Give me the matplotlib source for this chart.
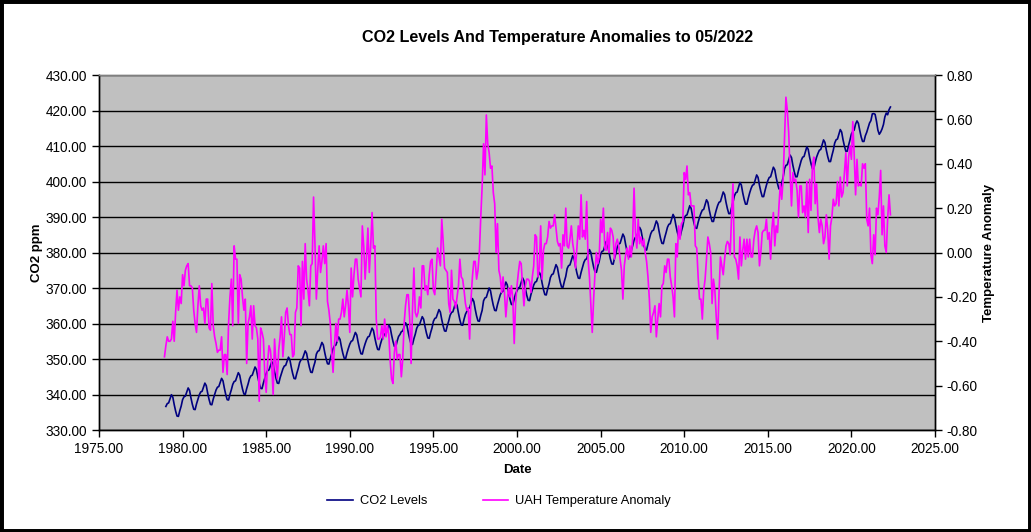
import numpy as np
import matplotlib
matplotlib.use("Agg")
import matplotlib.pyplot as plt
from matplotlib.patches import Rectangle

plt.rcParams['font.family'] = ['Liberation Sans', 'DejaVu Sans']

title = "CO2 Levels And Temperature Anomalies to 05/2022"
co2_label = "CO2 Levels"
uah_label = "UAH Temperature Anomaly"

# first month of each series (year, month)
co2_start = (1979, 1)
uah_start = (1978, 12)

# Mauna Loa monthly CO2 (ppm), one row per year
co2_ppm = [
    336.64, 337.44, 337.64, 338.84, 339.94, 339.24, 337.14, 335.34, 333.94, 333.84, 335.44, 336.74,  # 1979
    338.55, 339.35, 339.55, 340.75, 341.85, 341.15, 339.05, 337.25, 335.85, 335.75, 337.35, 338.65,  # 1980
    339.91, 340.71, 340.91, 342.11, 343.21, 342.51, 340.41, 338.61, 337.21, 337.11, 338.71, 340.01,  # 1981
    341.25, 342.05, 342.25, 343.45, 344.55, 343.85, 341.75, 339.95, 338.55, 338.45, 340.05, 341.35,  # 1982
    342.85, 343.65, 343.85, 345.05, 346.15, 345.45, 343.35, 341.55, 340.15, 340.05, 341.65, 342.95,  # 1983
    344.45, 345.25, 345.45, 346.65, 347.75, 347.05, 344.95, 343.15, 341.75, 341.65, 343.25, 344.55,  # 1984
    345.92, 346.72, 346.92, 348.12, 349.22, 348.52, 346.42, 344.62, 343.22, 343.12, 344.72, 346.02,  # 1985
    347.22, 348.02, 348.22, 349.42, 350.52, 349.82, 347.72, 345.92, 344.52, 344.42, 346.02, 347.32,  # 1986
    348.99, 349.79, 349.99, 351.19, 352.29, 351.59, 349.49, 347.69, 346.29, 346.19, 347.79, 349.09,  # 1987
    351.37, 352.17, 352.37, 353.57, 354.67, 353.97, 351.87, 350.07, 348.67, 348.57, 350.17, 351.47,  # 1988
    352.92, 353.72, 353.92, 355.12, 356.22, 355.52, 353.42, 351.62, 350.22, 350.12, 351.72, 353.02,  # 1989
    354.19, 354.99, 355.19, 356.39, 357.49, 356.79, 354.69, 352.89, 351.49, 351.39, 352.99, 354.29,  # 1990
    355.41, 356.21, 356.41, 357.61, 358.71, 358.01, 355.91, 354.11, 352.71, 352.61, 354.21, 355.51,  # 1991
    356.25, 357.05, 357.25, 358.45, 359.55, 358.85, 356.75, 354.95, 353.55, 353.45, 355.05, 356.35,  # 1992
    356.90, 357.70, 357.90, 359.10, 360.20, 359.50, 357.40, 355.60, 354.20, 354.10, 355.70, 357.00,  # 1993
    358.63, 359.43, 359.63, 360.83, 361.93, 361.23, 359.13, 357.33, 355.93, 355.83, 357.43, 358.73,  # 1994
    360.62, 361.42, 361.62, 362.82, 363.92, 363.22, 361.12, 359.32, 357.92, 357.82, 359.42, 360.72,  # 1995
    362.31, 363.11, 363.31, 364.61, 365.91, 365.11, 362.91, 361.01, 359.61, 359.51, 361.21, 362.61,  # 1996
    363.43, 364.23, 364.43, 365.73, 367.03, 366.23, 364.03, 362.13, 360.73, 360.63, 362.33, 363.73,  # 1997
    366.40, 367.20, 367.40, 368.70, 370.00, 369.20, 367.00, 365.10, 363.70, 363.60, 365.30, 366.70,  # 1998
    368.08, 368.88, 369.08, 370.38, 371.68, 370.88, 368.68, 366.78, 365.38, 365.28, 366.98, 368.38,  # 1999
    369.25, 370.05, 370.25, 371.55, 372.85, 372.05, 369.85, 367.95, 366.55, 366.45, 368.15, 369.55,  # 2000
    370.84, 371.64, 371.84, 373.14, 374.44, 373.64, 371.44, 369.54, 368.14, 368.04, 369.74, 371.14,  # 2001
    372.98, 373.78, 373.98, 375.28, 376.58, 375.78, 373.58, 371.68, 370.28, 370.18, 371.88, 373.28,  # 2002
    375.50, 376.30, 376.50, 377.80, 379.10, 378.30, 376.10, 374.20, 372.80, 372.70, 374.40, 375.80,  # 2003
    377.22, 378.02, 378.22, 379.52, 380.82, 380.02, 377.82, 375.92, 374.52, 374.42, 376.12, 377.52,  # 2004
    379.50, 380.30, 380.50, 381.80, 383.10, 382.30, 380.10, 378.20, 376.80, 376.70, 378.40, 379.80,  # 2005
    381.60, 382.40, 382.60, 383.90, 385.20, 384.40, 382.20, 380.30, 378.90, 378.80, 380.50, 381.90,  # 2006
    383.49, 384.29, 384.49, 385.79, 387.09, 386.29, 384.09, 382.19, 380.79, 380.69, 382.39, 383.79,  # 2007
    385.30, 386.10, 386.30, 387.60, 388.90, 388.10, 385.90, 384.00, 382.60, 382.50, 384.20, 385.60,  # 2008
    387.13, 387.93, 388.13, 389.43, 390.73, 389.93, 387.73, 385.83, 384.43, 384.33, 386.03, 387.43,  # 2009
    389.60, 390.40, 390.60, 391.90, 393.20, 392.40, 390.20, 388.30, 386.90, 386.80, 388.50, 389.90,  # 2010
    391.05, 391.95, 392.15, 393.55, 394.85, 394.15, 391.95, 390.15, 388.75, 388.75, 390.45, 391.95,  # 2011
    393.25, 394.15, 394.35, 395.75, 397.05, 396.35, 394.15, 392.35, 390.95, 390.95, 392.65, 394.15,  # 2012
    395.92, 396.82, 397.02, 398.42, 399.72, 399.02, 396.82, 395.02, 393.62, 393.62, 395.32, 396.82,  # 2013
    398.05, 398.95, 399.15, 400.55, 401.85, 401.15, 398.95, 397.15, 395.75, 395.75, 397.45, 398.95,  # 2014
    400.23, 401.13, 401.33, 402.73, 404.03, 403.33, 401.13, 399.33, 397.93, 397.93, 399.63, 401.13,  # 2015
    403.64, 404.54, 404.74, 406.14, 407.44, 406.74, 404.54, 402.74, 401.34, 401.34, 403.04, 404.54,  # 2016
    405.95, 406.85, 407.05, 408.45, 409.75, 409.05, 406.85, 405.05, 403.65, 403.65, 405.35, 406.85,  # 2017
    407.92, 408.82, 409.02, 410.42, 411.72, 411.02, 408.82, 407.02, 405.62, 405.62, 407.32, 408.82,  # 2018
    410.83, 411.75, 411.97, 413.33, 414.64, 413.93, 411.74, 409.95, 408.54, 408.52, 410.25, 411.76,  # 2019
    413.40, 414.11, 414.51, 416.21, 417.07, 416.39, 414.38, 412.55, 411.29, 411.28, 412.89, 413.88,  # 2020
    415.15, 416.47, 417.16, 419.05, 419.13, 418.94, 416.96, 414.47, 413.30, 413.93, 414.82, 416.06,  # 2021
    418.19, 419.28, 418.81, 420.23, 420.99,                                                          # 2022
]

# UAH lower-troposphere monthly anomaly (deg C), Dec 1978 first
uah_anomaly = [
    -0.47,                                                                                # 1978 Dec
    -0.42, -0.38, -0.40, -0.40, -0.39, -0.31, -0.40, -0.27, -0.17, -0.26, -0.20, -0.23,  # 1979
    -0.10, -0.15, -0.08, -0.06, -0.05, -0.15, -0.15, -0.16, -0.26, -0.32, -0.36, -0.24,  # 1980
    -0.15, -0.24, -0.26, -0.25, -0.32, -0.21, -0.21, -0.34, -0.35, -0.14, -0.33, -0.38,  # 1981
    -0.41, -0.45, -0.44, -0.44, -0.38, -0.54, -0.46, -0.46, -0.55, -0.32, -0.20, -0.12,  # 1982
    -0.33, 0.03, -0.03, -0.03, -0.32, -0.10, -0.12, -0.20, -0.26, -0.21, -0.50, -0.32,   # 1983
    -0.29, -0.24, -0.39, -0.24, -0.33, -0.34, -0.39, -0.67, -0.34, -0.36, -0.39, -0.55,  # 1984
    -0.63, -0.50, -0.42, -0.44, -0.51, -0.64, -0.39, -0.50, -0.57, -0.44, -0.38, -0.29,  # 1985
    -0.47, -0.38, -0.27, -0.25, -0.33, -0.37, -0.37, -0.47, -0.46, -0.27, -0.25, -0.06,  # 1986
    -0.07, -0.33, -0.04, -0.21, 0.04, -0.12, -0.17, -0.24, -0.06, -0.05, 0.25, 0.04,     # 1987
    -0.21, -0.08, 0.03, -0.09, -0.04, 0.03, -0.05, 0.04, -0.22, -0.26, -0.32, -0.45,     # 1988
    -0.54, -0.42, -0.32, -0.40, -0.30, -0.30, -0.27, -0.21, -0.29, -0.24, -0.17, -0.24,  # 1989
    -0.36, -0.07, -0.20, -0.10, -0.03, -0.03, -0.12, -0.16, -0.20, 0.12, 0.03, -0.12,    # 1990
    -0.02, 0.11, -0.09, 0.03, 0.18, 0.02, 0.03, -0.30, -0.39, -0.39, -0.38, -0.33,       # 1991
    -0.39, -0.30, -0.38, -0.33, -0.37, -0.49, -0.57, -0.59, -0.45, -0.40, -0.48, -0.46,  # 1992
    -0.46, -0.56, -0.48, -0.32, -0.24, -0.19, -0.19, -0.30, -0.50, -0.26, -0.07, -0.27,  # 1993
    -0.29, -0.27, -0.20, -0.25, -0.06, -0.06, -0.17, -0.15, -0.19, -0.10, -0.04, -0.03,  # 1994
    -0.17, -0.19, -0.09, 0.02, -0.02, -0.06, 0.15, 0.05, -0.07, -0.08, -0.09, -0.23,     # 1995
    -0.27, -0.08, -0.21, -0.22, -0.25, -0.20, -0.15, -0.03, -0.11, -0.12, -0.17, -0.23,  # 1996
    -0.26, -0.25, -0.39, -0.21, -0.11, -0.04, -0.04, -0.12, -0.08, 0.00, 0.16, 0.30,     # 1997
    0.49, 0.35, 0.62, 0.49, 0.45, 0.38, 0.39, 0.27, 0.22, 0.00, 0.13, -0.08,             # 1998
    -0.11, -0.18, -0.11, -0.18, -0.29, -0.21, -0.16, -0.20, -0.15, -0.21, -0.41, -0.23,  # 1999
    -0.15, -0.09, -0.04, -0.05, -0.15, -0.24, -0.15, -0.12, -0.12, -0.13, -0.18, -0.11,  # 2000
    -0.06, 0.08, 0.07, -0.11, -0.07, 0.12, -0.12, 0.01, 0.04, 0.04, 0.07, 0.14,          # 2001
    0.11, 0.12, 0.12, 0.17, 0.11, 0.05, 0.03, 0.04, -0.07, 0.08, 0.03, 0.20,             # 2002
    0.03, 0.02, 0.06, 0.12, 0.04, 0.00, -0.07, 0.02, 0.12, 0.06, 0.26, 0.07,             # 2003
    0.10, 0.06, 0.23, -0.03, -0.11, -0.24, -0.36, -0.21, -0.09, 0.00, -0.05, -0.02,      # 2004
    0.15, 0.09, 0.20, 0.02, 0.01, 0.09, 0.00, 0.11, 0.10, 0.07, -0.03, 0.04,             # 2005
    0.06, 0.03, -0.03, -0.08, -0.21, -0.06, -0.01, 0.02, -0.03, 0.03, -0.02, 0.06,       # 2006
    0.29, 0.09, 0.02, 0.15, 0.04, 0.07, 0.03, 0.06, -0.00, -0.04, -0.11, -0.21,          # 2007
    -0.36, -0.29, -0.27, -0.24, -0.38, -0.30, -0.23, -0.29, -0.15, -0.14, -0.06, -0.09,  # 2008
    -0.03, -0.03, -0.11, -0.15, -0.20, -0.29, 0.04, -0.02, 0.12, 0.06, 0.13, 0.14,       # 2009
    0.36, 0.33, 0.39, 0.26, 0.27, 0.21, 0.21, 0.21, 0.03, 0.02, -0.11, -0.21,            # 2010
    -0.21, -0.30, -0.17, -0.12, -0.03, 0.07, 0.04, -0.00, -0.23, -0.12, -0.17, -0.29,    # 2011
    -0.39, -0.18, -0.02, -0.06, -0.10, -0.03, 0.03, 0.05, 0.04, -0.01, 0.17, 0.31,       # 2012
    -0.02, -0.03, -0.06, -0.12, 0.07, -0.06, 0.01, 0.06, -0.03, 0.06, -0.02, 0.06,       # 2013
    -0.02, -0.02, 0.06, 0.10, 0.12, 0.09, -0.06, -0.00, 0.09, 0.10, 0.10, 0.15,          # 2014
    0.06, 0.09, -0.03, 0.11, 0.18, 0.03, 0.12, 0.09, 0.21, 0.31, 0.24, 0.33,             # 2015
    0.51, 0.70, 0.64, 0.54, 0.36, 0.21, 0.36, 0.32, 0.33, 0.28, 0.16, 0.30,              # 2016
    0.30, 0.18, 0.21, 0.16, 0.32, 0.09, 0.33, 0.19, 0.39, 0.43, 0.22, 0.31,              # 2017
    0.16, 0.09, 0.15, 0.12, 0.04, 0.07, 0.17, 0.10, -0.03, 0.12, 0.16, 0.24,             # 2018
    0.21, 0.22, 0.32, 0.21, 0.34, 0.25, 0.27, 0.36, 0.45, 0.30, 0.43, 0.48,              # 2019
    0.42, 0.59, 0.44, 0.26, 0.42, 0.30, 0.31, 0.30, 0.40, 0.38, 0.40, 0.15,              # 2020
    0.12, 0.20, -0.01, -0.05, 0.08, -0.01, 0.20, 0.17, 0.25, 0.37, 0.08, 0.21,           # 2021
    0.03, -0.00, 0.15, 0.26, 0.17,                                                       # 2022
]

co2_ticks = [330, 340, 350, 360, 370, 380, 390, 400, 410, 420, 430]
temp_ticks = [-0.8, -0.6, -0.4, -0.2, 0.0, 0.2, 0.4, 0.6, 0.8]
year_ticks = [1975, 1980, 1985, 1990, 1995, 2000, 2005, 2010, 2015, 2020, 2025]


def month_dates(start, n):
    y, m = start
    return np.array([y + (m - 1 + k) / 12.0 for k in range(n)])


co2_x = month_dates(co2_start, len(co2_ppm))
uah_x = month_dates(uah_start, len(uah_anomaly))

fig = plt.figure(figsize=(10.31, 5.32), dpi=100)
fig.patch.set_facecolor('white')

ax = fig.add_axes([0.0960, 0.1917, 0.8109, 0.6673])
ax.set_facecolor('#C0C0C0')
ax.set_xlim(year_ticks[0], year_ticks[-1])
ax.set_ylim(co2_ticks[0], co2_ticks[-1])
ax.set_xticks(year_ticks)
ax.set_yticks(co2_ticks)
ax.set_xticklabels([f"{v:.2f}" for v in year_ticks])
ax.set_yticklabels([f"{v:.2f}" for v in co2_ticks])
ax.yaxis.grid(True, color='black', linewidth=1.0)
ax.set_axisbelow(True)

line_co2, = ax.plot(co2_x, co2_ppm, color='#000080', linewidth=1.2, label=co2_label, zorder=3)

ax2 = ax.twinx()
ax2.set_ylim(temp_ticks[0], temp_ticks[-1])
ax2.set_yticks(temp_ticks)
ax2.set_yticklabels([f"{v:.2f}" for v in temp_ticks])
line_uah, = ax2.plot(uah_x, uah_anomaly, color='#FF00FF', linewidth=1.2, label=uah_label, zorder=3)

for a in (ax, ax2):
    a.spines['top'].set_color('#808080')
    a.spines['left'].set_color('black')
    a.spines['right'].set_color('black')
    a.spines['bottom'].set_color('black')
    for s in a.spines.values():
        s.set_linewidth(1.0)
    a.tick_params(direction='out', length=5, width=1, colors='black', labelsize=9.8)

ax.set_ylabel('CO2 ppm', fontsize=9.5, fontweight='bold', labelpad=2)
ax.set_xlabel('Date', fontsize=9.5, fontweight='bold', labelpad=6)
ax2.set_ylabel('Temperature Anomaly', fontsize=9.5, fontweight='bold', labelpad=4)

fig.text(0.541, 0.930, title, ha='center', va='center', fontsize=11.6, fontweight='bold')

fig.legend([line_co2, line_uah], [co2_label, uah_label], loc='center',
           bbox_to_anchor=(0.484, 0.058), ncol=2, frameon=False,
           columnspacing=4.3, handlelength=2.0, handletextpad=0.5, fontsize=9.3)

fig.add_artist(Rectangle((0, 0), 1, 1, transform=fig.transFigure, fill=False,
                         edgecolor='black', linewidth=5, clip_on=False))

fig.savefig('out.png', dpi=100)
